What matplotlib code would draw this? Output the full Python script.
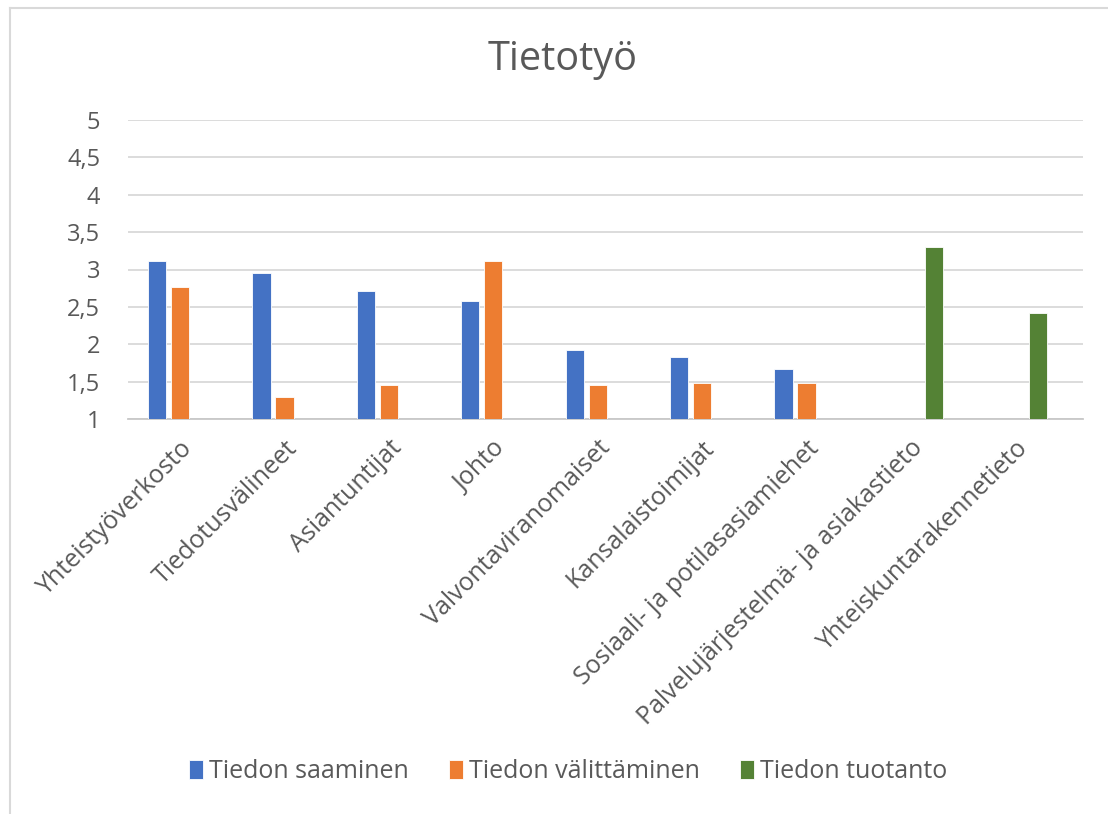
import numpy as np
import matplotlib.pyplot as plt
from matplotlib.lines import Line2D

plt.rcParams['font.family'] = ['Open Sans', 'DejaVu Sans']

# Data
categories = ['Yhteistyöverkosto', 'Tiedotusvälineet', 'Asiantuntijat', 'Johto',
              'Valvontaviranomaiset', 'Kansalaistoimijat',
              'Sosiaali- ja potilasasiamiehet',
              'Palvelujärjestelmä- ja asiakastieto', 'Yhteiskuntarakennetieto']
saaminen = [3.11, 2.95, 2.71, 2.58, 1.92, 1.83, 1.67, np.nan, np.nan]
valittaminen = [2.77, 1.30, 1.45, 3.11, 1.45, 1.48, 1.48, np.nan, np.nan]
tuotanto = [np.nan, np.nan, np.nan, np.nan, np.nan, np.nan, np.nan, 3.30, 2.42]
series_names = ['Tiedon saaminen', 'Tiedon välittäminen', 'Tiedon tuotanto']
yticks = [1, 1.5, 2, 2.5, 3, 3.5, 4, 4.5, 5]
ytick_labels = ['1', '1,5', '2', '2,5', '3', '3,5', '4', '4,5', '5']

colors = ['#4472C4', '#ED7D31', '#548235']
text_col = '#595959'
grid_col = '#D9D9D9'

fig = plt.figure(figsize=(11.08, 8.14), dpi=100)
ax = fig.add_axes([128 / 1108, 1 - 419 / 814, (1083 - 128) / 1108, (419 - 120) / 814])

x = np.arange(len(categories))
w = 0.175
off = 0.22
for vals, dx, c, name in zip([saaminen, valittaminen, tuotanto], [-off, 0, off], colors, series_names):
    v = np.array(vals, dtype=float)
    ax.bar(x + dx, v - 1, width=w, bottom=1, color=c, label=name, zorder=3,
           edgecolor='white', linewidth=0.6)

ax.set_ylim(1, 5)
ax.set_xlim(-0.5, 8.65)
ax.set_yticks(yticks)
ax.set_yticklabels(ytick_labels)
ax.yaxis.grid(True, color=grid_col, linewidth=1.3, zorder=0)
ax.tick_params(axis='y', length=0, pad=20, labelsize=17, labelcolor=text_col)
ax.set_xticks(x)
ax.set_xticklabels(categories, rotation=45, ha='right', rotation_mode='anchor')
ax.tick_params(axis='x', length=0, pad=12, labelsize=18, labelcolor=text_col)
for s in ['top', 'right', 'left']:
    ax.spines[s].set_visible(False)
ax.spines['bottom'].set_color('#C8C8C8')
ax.spines['bottom'].set_linewidth(1.3)

fig.text(0.508, 1 - 60 / 814, 'Tietotyö', ha='center', va='center',
         fontsize=28.5, color=text_col)

fig.legend(loc='center', bbox_to_anchor=(0.513, 1 - 772 / 814), ncol=3,
           frameon=False, fontsize=18, labelcolor=text_col,
           handlelength=0.55, handleheight=0.8, handletextpad=0.25,
           columnspacing=1.6)

# chart area border (cropped on right and bottom)
fig.add_artist(Line2D([10 / 1108, 10 / 1108], [0, 1 - 8 / 814],
                      transform=fig.transFigure, color=grid_col, linewidth=1.5))
fig.add_artist(Line2D([10 / 1108, 1], [1 - 8 / 814, 1 - 8 / 814],
                      transform=fig.transFigure, color=grid_col, linewidth=1.5))

fig.savefig('out.png', dpi=100)
